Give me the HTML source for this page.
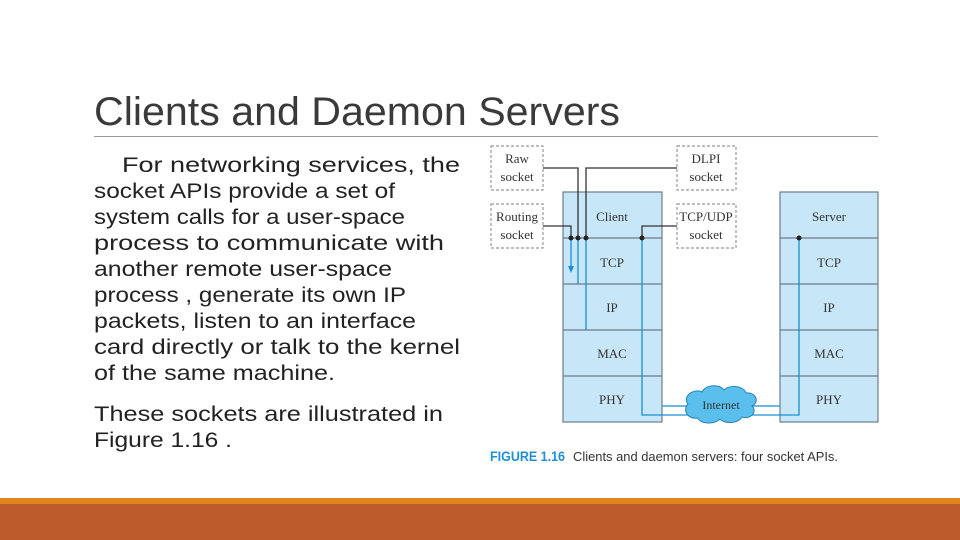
<!DOCTYPE html>
<html><head><meta charset="utf-8"><style>
html,body{margin:0;padding:0;background:#fff;}
svg{display:block;}
</style></head><body>
<svg width="960" height="540" viewBox="0 0 960 540" xmlns="http://www.w3.org/2000/svg">
<rect width="960" height="540" fill="#fff"/>
<rect x="0" y="498" width="960" height="6" fill="#E0861E"/>
<rect x="0" y="504" width="960" height="36" fill="#BC5A2C"/>
<text x="94" y="125" font-family="Liberation Sans, sans-serif" font-size="40" fill="#3a3a3a" textLength="526" lengthAdjust="spacingAndGlyphs">Clients and Daemon Servers</text>
<line x1="94" y1="136.5" x2="878" y2="136.5" stroke="#9a9a9a" stroke-width="1"/>
<g font-family="Liberation Sans, sans-serif" font-size="21" fill="#222" lengthAdjust="spacingAndGlyphs">
<text x="122" y="172" textLength="338" lengthAdjust="spacingAndGlyphs">For networking services, the</text>
<text x="94" y="198" textLength="301" lengthAdjust="spacingAndGlyphs">socket APIs provide a set of</text>
<text x="94" y="224" textLength="311" lengthAdjust="spacingAndGlyphs">system calls for a user-space</text>
<text x="94" y="250" textLength="350" lengthAdjust="spacingAndGlyphs">process to communicate with</text>
<text x="94" y="276" textLength="298" lengthAdjust="spacingAndGlyphs">another remote user-space</text>
<text x="94" y="302" textLength="312" lengthAdjust="spacingAndGlyphs">process , generate its own IP</text>
<text x="94" y="328" textLength="322" lengthAdjust="spacingAndGlyphs">packets, listen to an interface</text>
<text x="94" y="354" textLength="366" lengthAdjust="spacingAndGlyphs">card directly or talk to the kernel</text>
<text x="94" y="380" textLength="241" lengthAdjust="spacingAndGlyphs">of the same machine.</text>
<text x="94" y="421" textLength="349" lengthAdjust="spacingAndGlyphs">These sockets are illustrated in</text>
<text x="94" y="447" textLength="138" lengthAdjust="spacingAndGlyphs">Figure 1.16 .</text>
</g>
<!-- stacks -->
<g stroke="#6b7d8a" stroke-width="1.2" fill="#c7e7f8">
<rect x="563" y="192" width="99" height="230"/>
<rect x="780" y="192" width="98" height="230"/>
<line x1="563" y1="238" x2="662" y2="238"/><line x1="563" y1="284" x2="662" y2="284"/>
<line x1="563" y1="330" x2="662" y2="330"/><line x1="563" y1="376" x2="662" y2="376"/>
<line x1="780" y1="238" x2="878" y2="238"/><line x1="780" y1="284" x2="878" y2="284"/>
<line x1="780" y1="330" x2="878" y2="330"/><line x1="780" y1="376" x2="878" y2="376"/>
</g>
<g stroke="#999" stroke-width="1.2" fill="#fff" stroke-dasharray="3,2">
<rect x="491" y="146" width="52" height="44"/>
<rect x="491" y="204" width="52" height="44"/>
<rect x="677" y="146" width="59" height="44"/>
<rect x="677" y="204" width="59" height="44"/>
</g>
<g font-family="Liberation Serif, serif" font-size="13" fill="#333" text-anchor="middle">
<text x="517" y="163">Raw</text><text x="517" y="181">socket</text>
<text x="517" y="221">Routing</text><text x="517" y="239">socket</text>
<text x="706" y="163">DLPI</text><text x="706" y="181">socket</text>
<text x="706" y="221">TCP/UDP</text><text x="706" y="239">socket</text>
<text x="612" y="221">Client</text><text x="829" y="221">Server</text>
<text x="612" y="267">TCP</text><text x="829" y="267">TCP</text>
<text x="612" y="312">IP</text><text x="829" y="312">IP</text>
<text x="612" y="358">MAC</text><text x="829" y="358">MAC</text>
<text x="612" y="404">PHY</text><text x="829" y="404">PHY</text>
</g>
<!-- connectors -->
<g fill="none" stroke-width="1.3">
<polyline points="543,168 578,168 578,238" stroke="#333"/>
<line x1="578" y1="238" x2="578" y2="284" stroke="#1a8fd0"/>
<polyline points="677,168 586,168 586,238" stroke="#333"/>
<line x1="586" y1="238" x2="586" y2="330" stroke="#1a8fd0"/>
<polyline points="543,226 571,226 571,238" stroke="#333"/>
<line x1="571" y1="238" x2="571" y2="268" stroke="#1a8fd0"/>
<polyline points="677,226 642,226 642,238" stroke="#333"/>
<polyline points="642,238 642,415 690,415" stroke="#1a8fd0"/>
<line x1="662" y1="406" x2="690" y2="406" stroke="#1a8fd0"/>
<polyline points="799,238 799,415 750,415" stroke="#1a8fd0"/>
<line x1="750" y1="406" x2="780" y2="406" stroke="#1a8fd0"/>
</g>
<polygon points="568,266 574,266 571,273" fill="#1a8fd0"/>
<g fill="#222"><circle cx="571" cy="238" r="2.5"/><circle cx="578" cy="238" r="2.5"/><circle cx="586" cy="238" r="2.5"/><circle cx="642" cy="238" r="2.5"/><circle cx="799" cy="238" r="2.5"/></g>
<!-- cloud -->
<path d="M688,404 C682,396 694,388 702,392 C706,384 720,384 724,390 C730,384 744,386 746,393 C756,392 760,402 752,406 C758,412 750,420 742,417 C738,424 724,424 720,419 C714,425 700,424 698,418 C688,420 682,410 688,404 Z" fill="#5bbfee" stroke="#2a7fb8" stroke-width="1"/>
<text x="721" y="409" font-family="Liberation Serif, serif" font-size="12" fill="#333" text-anchor="middle">Internet</text>
<text x="490" y="461" font-family="Liberation Sans, sans-serif" font-size="14" font-weight="bold" fill="#1e8fd8" textLength="75" lengthAdjust="spacingAndGlyphs">FIGURE 1.16</text>
<text x="573" y="461" font-family="Liberation Sans, sans-serif" font-size="13" fill="#333" textLength="265" lengthAdjust="spacingAndGlyphs">Clients and daemon servers: four socket APIs.</text>
</svg>
</body></html>
